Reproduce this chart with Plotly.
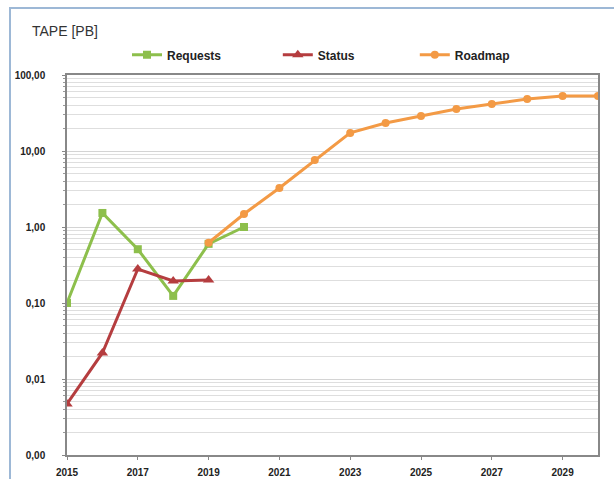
import plotly.graph_objects as go

years_req = [2015, 2016, 2017, 2018, 2019, 2020]
requests = [0.10, 1.53, 0.51, 0.124, 0.60, 1.00]

years_status = [2015, 2016, 2017, 2018, 2019]
status = [0.0047, 0.022, 0.28, 0.195, 0.20]

years_road = [2019, 2020, 2021, 2022, 2023, 2024, 2025, 2026, 2027, 2028, 2029, 2030]
roadmap = [0.62, 1.48, 3.26, 7.6, 17.3, 23.4, 28.8, 35.7, 41.5, 48.4, 52.8, 52.8]

y_tickvals = [0.001, 0.01, 0.1, 1, 10, 100]
y_ticktext = ["0,00", "0,01", "0,10", "1,00", "10,00", "100,00"]
x_tickvals = [2015, 2017, 2019, 2021, 2023, 2025, 2027, 2029]

GREEN = "#8dbf4c"
RED = "#b53d3f"
ORANGE = "#f39a45"

fig = go.Figure()
fig.add_trace(go.Scatter(x=years_req, y=requests, name="Requests", mode="lines+markers",
                         line=dict(color=GREEN, width=3), showlegend=True,
                         marker=dict(symbol="square", size=8, color=GREEN), legend="legend"))
fig.add_trace(go.Scatter(x=years_status, y=status, name="Status", mode="lines+markers",
                         line=dict(color=RED, width=3), showlegend=True,
                         marker=dict(symbol="triangle-up", size=10, color=RED), legend="legend2"))
fig.add_trace(go.Scatter(x=years_road, y=roadmap, name="Roadmap", mode="lines+markers",
                         line=dict(color=ORANGE, width=3), showlegend=True,
                         marker=dict(symbol="circle", size=8, color=ORANGE), legend="legend3"))

legend_common = dict(orientation="h", yanchor="middle", y=1.053, xanchor="left",
                     bgcolor="rgba(0,0,0,0)",
                     font=dict(family="Liberation Sans, Arial", size=12, color="#222222", weight="bold"))

fig.update_layout(
    width=614, height=479,
    showlegend=True,
    margin=dict(l=67, r=16, t=75, b=24, autoexpand=False),
    paper_bgcolor="white", plot_bgcolor="white",
    title=dict(text="TAPE [PB]", x=32/614, xref="container", xanchor="left",
               y=1-31/479, yref="container", yanchor="middle",
               font=dict(family="Liberation Sans, Arial", size=14, color="#333333")),
    legend=dict(x=0.113, **legend_common),
    legend2=dict(x=0.397, **legend_common),
    legend3=dict(x=0.655, **legend_common),
    xaxis=dict(range=[2015, 2030], tickvals=x_tickvals, ticks="outside", ticklen=3,
               tickcolor="#888888", showgrid=False, showline=True, linecolor="#888888",
               linewidth=1.5, mirror=True, zeroline=False, ticklabelstandoff=4, automargin=False,
               tickfont=dict(family="Liberation Sans, Arial", size=10, color="#222222", weight="bold")),
    yaxis=dict(type="log", range=[-3, 2], tickvals=y_tickvals, ticktext=y_ticktext,
               ticks="outside", ticklen=3, tickcolor="#888888", ticklabelstandoff=15, automargin=False,
               showgrid=True, gridcolor="#d4d4d4", gridwidth=1,
               minor=dict(dtick="D1", showgrid=True, gridcolor="#dedede", gridwidth=1,
                          ticks="outside", ticklen=2, tickcolor="#999999"),
               showline=True, linecolor="#888888", linewidth=1.5, mirror=True, zeroline=False,
               tickfont=dict(family="Liberation Sans, Arial", size=10, color="#222222", weight="bold")),
    shapes=[dict(type="rect", xref="paper", yref="paper",
                 x0=(10-67)/531, x1=(625-67)/531, y0=(455-490)/380, y1=(455-8)/380,
                 line=dict(color="#9db8d6", width=2), layer="below")],
)

fig.write_html("out.html")
